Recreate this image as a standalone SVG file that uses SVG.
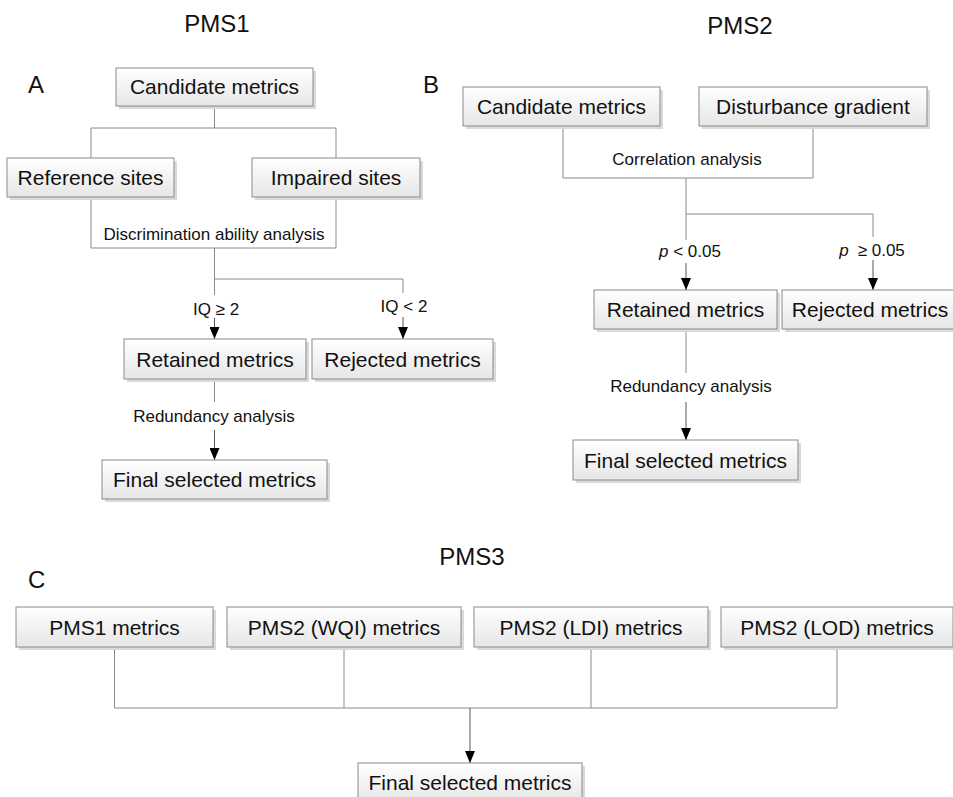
<svg xmlns="http://www.w3.org/2000/svg" width="953" height="797" viewBox="0 0 953 797">
<style>
text{font-family:"Liberation Sans",Arial,sans-serif;fill:#111}
.title{font-size:24px;text-anchor:middle}
.letter{font-size:24px}
.bt{font-size:21px;text-anchor:middle}
.lbl{font-size:17px;text-anchor:middle}
.box{fill:url(#g);stroke:#8a8a8a;stroke-width:1}
.sh{fill:#dadada}
.ln{fill:none;stroke:#8a8a8a;stroke-width:1}
.ar{fill:none;stroke:#555;stroke-width:1;marker-end:url(#ah)}
</style>
<defs>
<linearGradient id="g" x1="0" y1="0" x2="0" y2="1">
<stop offset="0" stop-color="#ffffff"/>
<stop offset="1" stop-color="#e6e6e6"/>
</linearGradient>
<marker id="ah" viewBox="0 0 12 10" refX="12" refY="5" markerWidth="12" markerHeight="10" markerUnits="userSpaceOnUse" orient="auto">
<path d="M0,0 L12,5 L0,10 Z" fill="#000"/>
</marker>
</defs>
<rect width="953" height="797" fill="#fff"/>

<text class="title" x="217" y="32">PMS1</text>
<text class="title" x="740" y="34">PMS2</text>
<text class="title" x="472" y="565">PMS3</text>
<text class="letter" x="28" y="93">A</text>
<text class="letter" x="423" y="93">B</text>
<text class="letter" x="28" y="588">C</text>

<g id="connectors">
<path class="ln" d="M214.5,106 V128 M91,128 H336 M91,128 V158 M336,128 V158"/>
<path class="ln" d="M91,197 V248 H336 V197"/>
<path class="ln" d="M214.5,248 V295 M214.5,279 H403 V293"/>
<path class="ar" d="M214.5,318 V339"/>
<path class="ar" d="M403,317 V339"/>
<path class="ln" d="M214.5,379 V402"/>
<path class="ar" d="M214.5,430 V460"/>
<text class="lbl" x="214" y="240">Discrimination ability analysis</text>
<text class="lbl" x="216" y="315">IQ ≥ 2</text>
<text class="lbl" x="404" y="312">IQ &lt; 2</text>
<text class="lbl" x="214" y="422">Redundancy analysis</text>

<path class="ln" d="M563,126 V178 H813 V126"/>
<path class="ln" d="M686,178 V240 M686,214 H873 V237"/>
<path class="ar" d="M686,263 V290"/>
<path class="ar" d="M873,260 V290"/>
<path class="ln" d="M686,329 V373"/>
<path class="ar" d="M686,402 V440"/>
<text class="lbl" x="687" y="165">Correlation analysis</text>
<text class="lbl" x="690" y="257"><tspan font-style="italic">p</tspan> &lt; 0.05</text>
<text class="lbl" x="872" y="256"><tspan font-style="italic">p</tspan><tspan dx="9">≥ 0.05</tspan></text>
<text class="lbl" x="691" y="392">Redundancy analysis</text>

<path class="ln" d="M114.5,647 V708 H837 M344,647 V708 M591,647 V708 M837,647 V708"/>
<path class="ar" d="M470,708 V763"/>
</g>

<g id="candA"><rect class="sh" x="119" y="71" width="197" height="38"/><rect class="box" x="116" y="68" width="197" height="38"/><text class="bt" x="214.5" y="94">Candidate metrics</text></g>
<g id="refA"><rect class="sh" x="10" y="161" width="167" height="39"/><rect class="box" x="7" y="158" width="167" height="39"/><text class="bt" x="90.5" y="185">Reference sites</text></g>
<g id="impA"><rect class="sh" x="255" y="161" width="168" height="39"/><rect class="box" x="252" y="158" width="168" height="39"/><text class="bt" x="336" y="185">Impaired sites</text></g>
<g id="retA"><rect class="sh" x="127" y="342" width="182" height="40"/><rect class="box" x="124" y="339" width="182" height="40"/><text class="bt" x="215" y="366.5">Retained metrics</text></g>
<g id="rejA"><rect class="sh" x="315" y="342" width="181" height="40"/><rect class="box" x="312" y="339" width="181" height="40"/><text class="bt" x="402.5" y="366.5">Rejected metrics</text></g>
<g id="finA"><rect class="sh" x="105" y="463" width="225" height="39"/><rect class="box" x="102" y="460" width="225" height="39"/><text class="bt" x="214.5" y="487">Final selected metrics</text></g>

<g id="candB"><rect class="sh" x="466" y="90" width="197" height="39"/><rect class="box" x="463" y="87" width="197" height="39"/><text class="bt" x="561.5" y="114">Candidate metrics</text></g>
<g id="distB"><rect class="sh" x="702" y="90" width="228" height="39"/><rect class="box" x="699" y="87" width="228" height="39"/><text class="bt" x="813" y="114">Disturbance gradient</text></g>
<g id="retB"><rect class="sh" x="597" y="293" width="183" height="39"/><rect class="box" x="594" y="290" width="183" height="39"/><text class="bt" x="685.5" y="317">Retained metrics</text></g>
<g id="rejB"><rect class="sh" x="785" y="293" width="183" height="39"/><rect class="box" x="782" y="290" width="183" height="39"/><text class="bt" x="870" y="317">Rejected metrics</text></g>
<g id="finB"><rect class="sh" x="576" y="443" width="225" height="40"/><rect class="box" x="573" y="440" width="225" height="40"/><text class="bt" x="685.5" y="467.5">Final selected metrics</text></g>

<g id="pms1"><rect class="sh" x="19" y="610" width="197" height="40"/><rect class="box" x="16" y="607" width="197" height="40"/><text class="bt" x="114.5" y="634.5">PMS1 metrics</text></g>
<g id="wqi"><rect class="sh" x="230" y="610" width="234" height="40"/><rect class="box" x="227" y="607" width="234" height="40"/><text class="bt" x="344" y="634.5">PMS2 (WQI) metrics</text></g>
<g id="ldi"><rect class="sh" x="477" y="610" width="234" height="40"/><rect class="box" x="474" y="607" width="234" height="40"/><text class="bt" x="591" y="634.5">PMS2 (LDI) metrics</text></g>
<g id="lod"><rect class="sh" x="724" y="610" width="232" height="40"/><rect class="box" x="721" y="607" width="232" height="40"/><text class="bt" x="837" y="634.5">PMS2 (LOD) metrics</text></g>
<g id="finC"><rect class="sh" x="361" y="766" width="224" height="40"/><rect class="box" x="358" y="763" width="224" height="40"/><text class="bt" x="470" y="790">Final selected metrics</text></g>
</svg>
